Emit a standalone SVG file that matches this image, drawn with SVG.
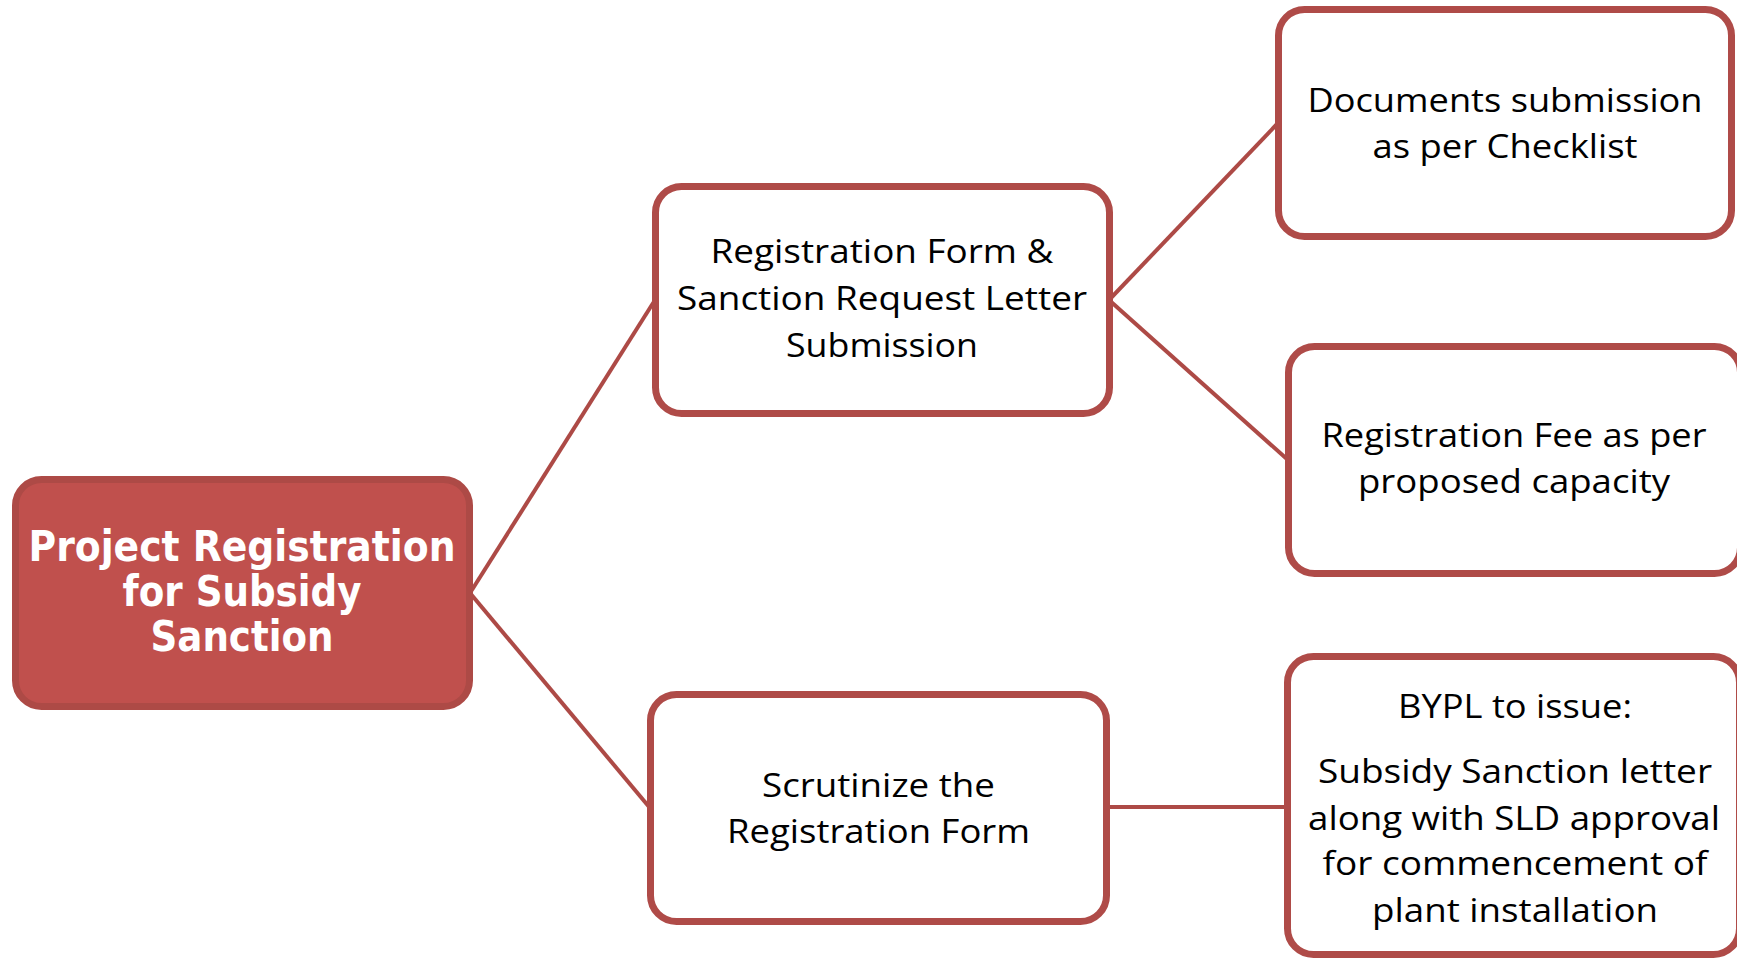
<svg xmlns="http://www.w3.org/2000/svg" width="1737" height="960" viewBox="0 0 1737 960">
<style>
.box{fill:#FFFFFF;stroke:#AF4B48;stroke-width:7}
.main{fill:#C0504D;stroke:#AD4A46;stroke-width:7}
.t{font-family:"Open Sans","Noto Sans","Liberation Sans",sans-serif;font-size:33px;fill:#000000;text-anchor:middle}
.mt{font-family:"DejaVu Sans","Liberation Sans",sans-serif;font-size:42px;font-weight:bold;fill:#FFFFFF;text-anchor:middle}
.c{stroke:#AD4A46;stroke-width:4;fill:none}
</style>
<rect width="1737" height="960" fill="#FFFFFF"/>
<g id="connectors">
<line class="c" x1="470" y1="593" x2="655" y2="300"/>
<line class="c" x1="470" y1="593" x2="650" y2="808"/>
<line class="c" x1="1109" y1="300" x2="1278" y2="123"/>
<line class="c" x1="1109" y1="300" x2="1288" y2="460"/>
<line class="c" x1="1106" y1="807" x2="1288" y2="807"/>
</g>
<g id="main">
<rect class="main" x="15.5" y="479.5" width="454" height="227" rx="26"/>
<text class="mt" x="242" y="561" textLength="427" lengthAdjust="spacingAndGlyphs">Project Registration</text>
<text class="mt" x="242" y="606" textLength="239" lengthAdjust="spacingAndGlyphs">for Subsidy</text>
<text class="mt" x="242" y="651" textLength="183" lengthAdjust="spacingAndGlyphs">Sanction</text>
</g>
<g id="registration-form">
<rect class="box" x="655.5" y="186.5" width="454" height="227" rx="26"/>
<text class="t" x="882" y="263" textLength="343" lengthAdjust="spacingAndGlyphs">Registration Form &amp;</text>
<text class="t" x="882" y="310" textLength="410" lengthAdjust="spacingAndGlyphs">Sanction Request Letter</text>
<text class="t" x="882" y="357" textLength="192" lengthAdjust="spacingAndGlyphs">Submission</text>
</g>
<g id="documents">
<rect class="box" x="1278.5" y="9.5" width="453" height="227" rx="26"/>
<text class="t" x="1505" y="112" textLength="395" lengthAdjust="spacingAndGlyphs">Documents submission</text>
<text class="t" x="1505" y="158" textLength="265" lengthAdjust="spacingAndGlyphs">as per Checklist</text>
</g>
<g id="registration-fee">
<rect class="box" x="1288.5" y="346.5" width="452" height="227" rx="26"/>
<text class="t" x="1514" y="447" textLength="385" lengthAdjust="spacingAndGlyphs">Registration Fee as per</text>
<text class="t" x="1514" y="493" textLength="312" lengthAdjust="spacingAndGlyphs">proposed capacity</text>
</g>
<g id="scrutinize">
<rect class="box" x="650.5" y="694.5" width="456" height="227" rx="26"/>
<text class="t" x="878.5" y="797" textLength="233" lengthAdjust="spacingAndGlyphs">Scrutinize the</text>
<text class="t" x="878.5" y="843" textLength="303" lengthAdjust="spacingAndGlyphs">Registration Form</text>
</g>
<g id="bypl">
<rect class="box" x="1287.5" y="656.5" width="452" height="298" rx="26"/>
<text class="t" x="1515" y="718" textLength="234" lengthAdjust="spacingAndGlyphs">BYPL to issue:</text>
<text class="t" x="1515" y="783" textLength="394" lengthAdjust="spacingAndGlyphs">Subsidy Sanction letter</text>
<text class="t" x="1514" y="830" textLength="412" lengthAdjust="spacingAndGlyphs">along with SLD approval</text>
<text class="t" x="1515" y="875" textLength="385" lengthAdjust="spacingAndGlyphs">for commencement of</text>
<text class="t" x="1515" y="922" textLength="286" lengthAdjust="spacingAndGlyphs">plant installation</text>
</g>
</svg>
